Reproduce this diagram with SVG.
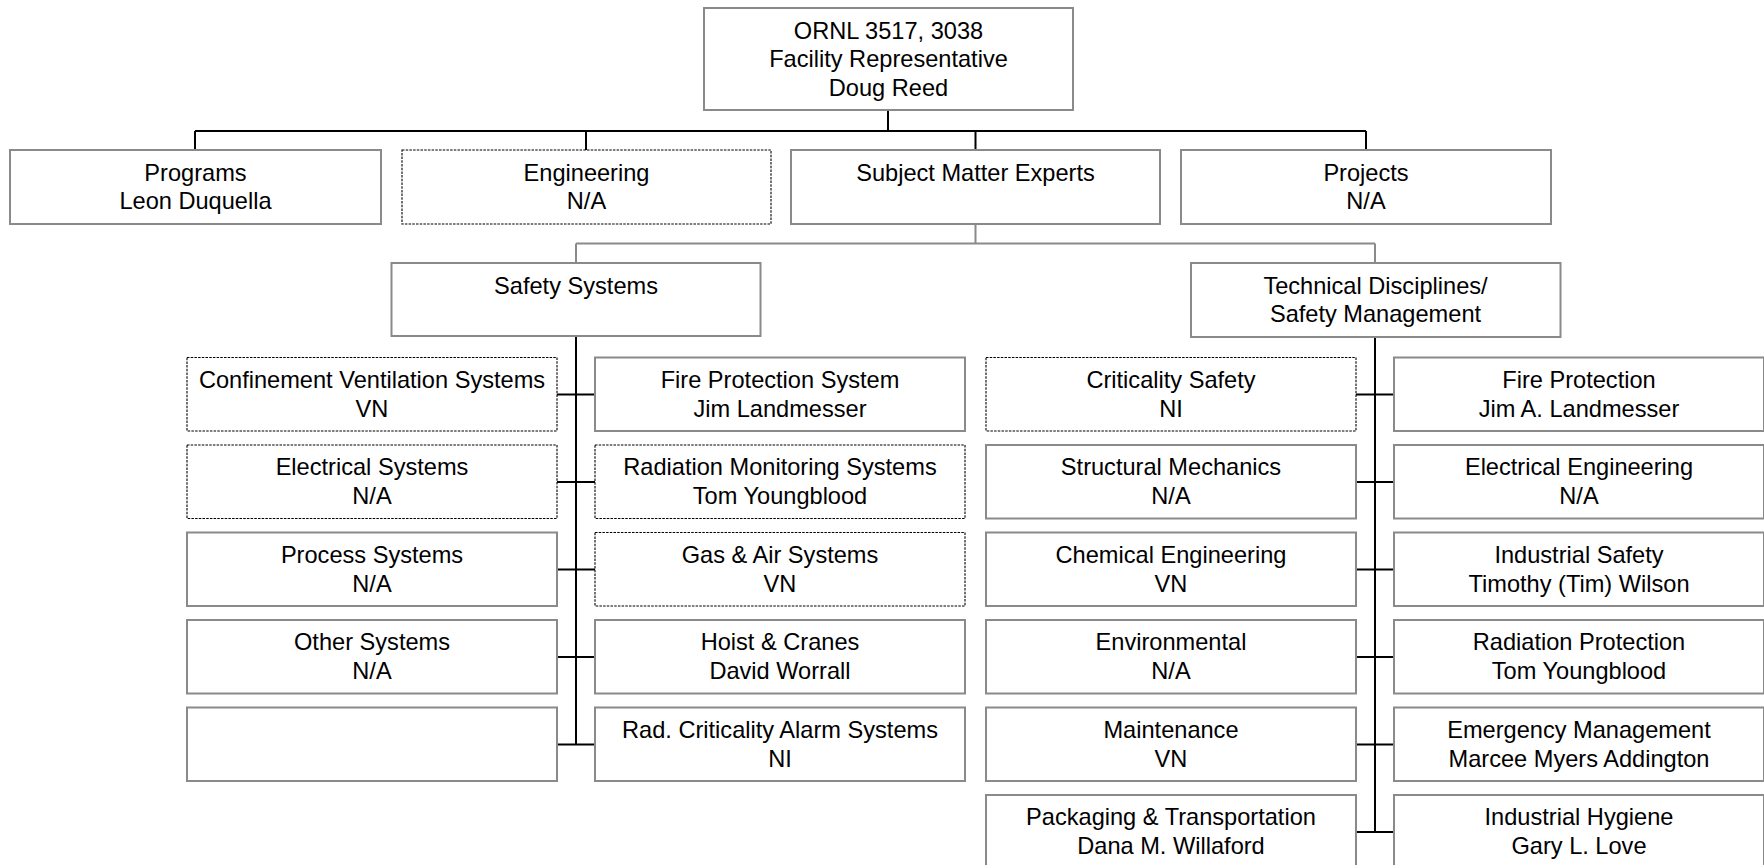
<svg xmlns="http://www.w3.org/2000/svg" width="1764" height="865" viewBox="0 0 1764 865">
<style>
.box{fill:#fff;stroke:#8a8a8a;stroke-width:2}
.dbox{fill:#fff;stroke:#000;stroke-width:1.1;stroke-dasharray:2.5 1.2}
.t{font-family:"Liberation Sans",Arial,sans-serif;font-size:23.6px;fill:#000;text-anchor:middle}
.k{stroke:#000;stroke-width:2;fill:none}
.g{stroke:#8a8a8a;stroke-width:2;fill:none}
</style>
<rect width="1764" height="865" fill="#fff"/>
<g id="connectors">
<path class="k" d="M888 110V131M195 131H1366M195 131V150M586 131V150M975.5 131V150M1366 131V150"/>
<path class="g" d="M975.5 224V243.5M576 243.5H1375M576 243.5V263M1375 243.5V263"/>
<path class="k" d="M576 336V744.5M557 394.5H595M557 482H595M557 569.5H595M557 657H595M557 744.5H595"/>
<path class="k" d="M1375 337V832M1356 394.5H1394M1356 482H1394M1356 569.5H1394M1356 657H1394M1356 744.5H1394M1356 832H1394"/>
</g>
<g id="n-ornl"><rect class="box" x="704" y="8" width="369" height="102"/><text class="t" x="888.5" y="38.5">ORNL 3517, 3038</text><text class="t" x="888.5" y="67">Facility Representative</text><text class="t" x="888.5" y="96">Doug Reed</text></g>
<g id="n-programs"><rect class="box" x="10" y="150" width="371" height="74"/><text class="t" x="195.5" y="180.5">Programs</text><text class="t" x="195.5" y="209">Leon Duquella</text></g>
<g id="n-engineering"><rect class="dbox" x="402" y="150" width="369" height="74"/><text class="t" x="586.5" y="180.5">Engineering</text><text class="t" x="586.5" y="209">N/A</text></g>
<g id="n-sme"><rect class="box" x="791" y="150" width="369" height="74"/><text class="t" x="975.5" y="180.5">Subject Matter Experts</text></g>
<g id="n-projects"><rect class="box" x="1181" y="150" width="370" height="74"/><text class="t" x="1366" y="180.5">Projects</text><text class="t" x="1366" y="209">N/A</text></g>
<g id="n-safety"><rect class="box" x="391.5" y="263" width="369" height="73"/><text class="t" x="576" y="293.5">Safety Systems</text></g>
<g id="n-tech"><rect class="box" x="1191" y="263" width="369.5" height="74"/><text class="t" x="1375.5" y="293.5">Technical Disciplines/</text><text class="t" x="1375.5" y="322">Safety Management</text></g>
<g id="n-cvs"><rect class="dbox" x="187" y="357.5" width="370" height="73.5"/><text class="t" x="372" y="387.5">Confinement Ventilation Systems</text><text class="t" x="372" y="416.5">VN</text></g>
<g id="n-fps"><rect class="box" x="595" y="357.5" width="370" height="73.5"/><text class="t" x="780" y="387.5">Fire Protection System</text><text class="t" x="780" y="416.5">Jim Landmesser</text></g>
<g id="n-es"><rect class="dbox" x="187" y="445" width="370" height="73.5"/><text class="t" x="372" y="475">Electrical Systems</text><text class="t" x="372" y="504">N/A</text></g>
<g id="n-rms"><rect class="dbox" x="595" y="445" width="370" height="73.5"/><text class="t" x="780" y="475">Radiation Monitoring Systems</text><text class="t" x="780" y="504">Tom Youngblood</text></g>
<g id="n-ps"><rect class="box" x="187" y="532.5" width="370" height="73.5"/><text class="t" x="372" y="562.5">Process Systems</text><text class="t" x="372" y="591.5">N/A</text></g>
<g id="n-gas"><rect class="dbox" x="595" y="532.5" width="370" height="73.5"/><text class="t" x="780" y="562.5">Gas &amp; Air Systems</text><text class="t" x="780" y="591.5">VN</text></g>
<g id="n-os"><rect class="box" x="187" y="620" width="370" height="73.5"/><text class="t" x="372" y="650">Other Systems</text><text class="t" x="372" y="679">N/A</text></g>
<g id="n-hoist"><rect class="box" x="595" y="620" width="370" height="73.5"/><text class="t" x="780" y="650">Hoist &amp; Cranes</text><text class="t" x="780" y="679">David Worrall</text></g>
<g id="n-empty"><rect class="box" x="187" y="707.5" width="370" height="73.5"/></g>
<g id="n-rcas"><rect class="box" x="595" y="707.5" width="370" height="73.5"/><text class="t" x="780" y="737.5">Rad. Criticality Alarm Systems</text><text class="t" x="780" y="766.5">NI</text></g>
<g id="n-crit"><rect class="dbox" x="986" y="357.5" width="370" height="73.5"/><text class="t" x="1171" y="387.5">Criticality Safety</text><text class="t" x="1171" y="416.5">NI</text></g>
<g id="n-fp"><rect class="box" x="1394" y="357.5" width="370" height="73.5"/><text class="t" x="1579" y="387.5">Fire Protection</text><text class="t" x="1579" y="416.5">Jim A. Landmesser</text></g>
<g id="n-sm"><rect class="box" x="986" y="445" width="370" height="73.5"/><text class="t" x="1171" y="475">Structural Mechanics</text><text class="t" x="1171" y="504">N/A</text></g>
<g id="n-ee"><rect class="box" x="1394" y="445" width="370" height="73.5"/><text class="t" x="1579" y="475">Electrical Engineering</text><text class="t" x="1579" y="504">N/A</text></g>
<g id="n-ce"><rect class="box" x="986" y="532.5" width="370" height="73.5"/><text class="t" x="1171" y="562.5">Chemical Engineering</text><text class="t" x="1171" y="591.5">VN</text></g>
<g id="n-is"><rect class="box" x="1394" y="532.5" width="370" height="73.5"/><text class="t" x="1579" y="562.5">Industrial Safety</text><text class="t" x="1579" y="591.5">Timothy (Tim) Wilson</text></g>
<g id="n-env"><rect class="box" x="986" y="620" width="370" height="73.5"/><text class="t" x="1171" y="650">Environmental</text><text class="t" x="1171" y="679">N/A</text></g>
<g id="n-rp"><rect class="box" x="1394" y="620" width="370" height="73.5"/><text class="t" x="1579" y="650">Radiation Protection</text><text class="t" x="1579" y="679">Tom Youngblood</text></g>
<g id="n-maint"><rect class="box" x="986" y="707.5" width="370" height="73.5"/><text class="t" x="1171" y="737.5">Maintenance</text><text class="t" x="1171" y="766.5">VN</text></g>
<g id="n-em"><rect class="box" x="1394" y="707.5" width="370" height="73.5"/><text class="t" x="1579" y="737.5">Emergency Management</text><text class="t" x="1579" y="766.5">Marcee Myers Addington</text></g>
<g id="n-pt"><rect class="box" x="986" y="795" width="370" height="73.5"/><text class="t" x="1171" y="825">Packaging &amp; Transportation</text><text class="t" x="1171" y="854">Dana M. Willaford</text></g>
<g id="n-ih"><rect class="box" x="1394" y="795" width="370" height="73.5"/><text class="t" x="1579" y="825">Industrial Hygiene</text><text class="t" x="1579" y="854">Gary L. Love</text></g>
</svg>
